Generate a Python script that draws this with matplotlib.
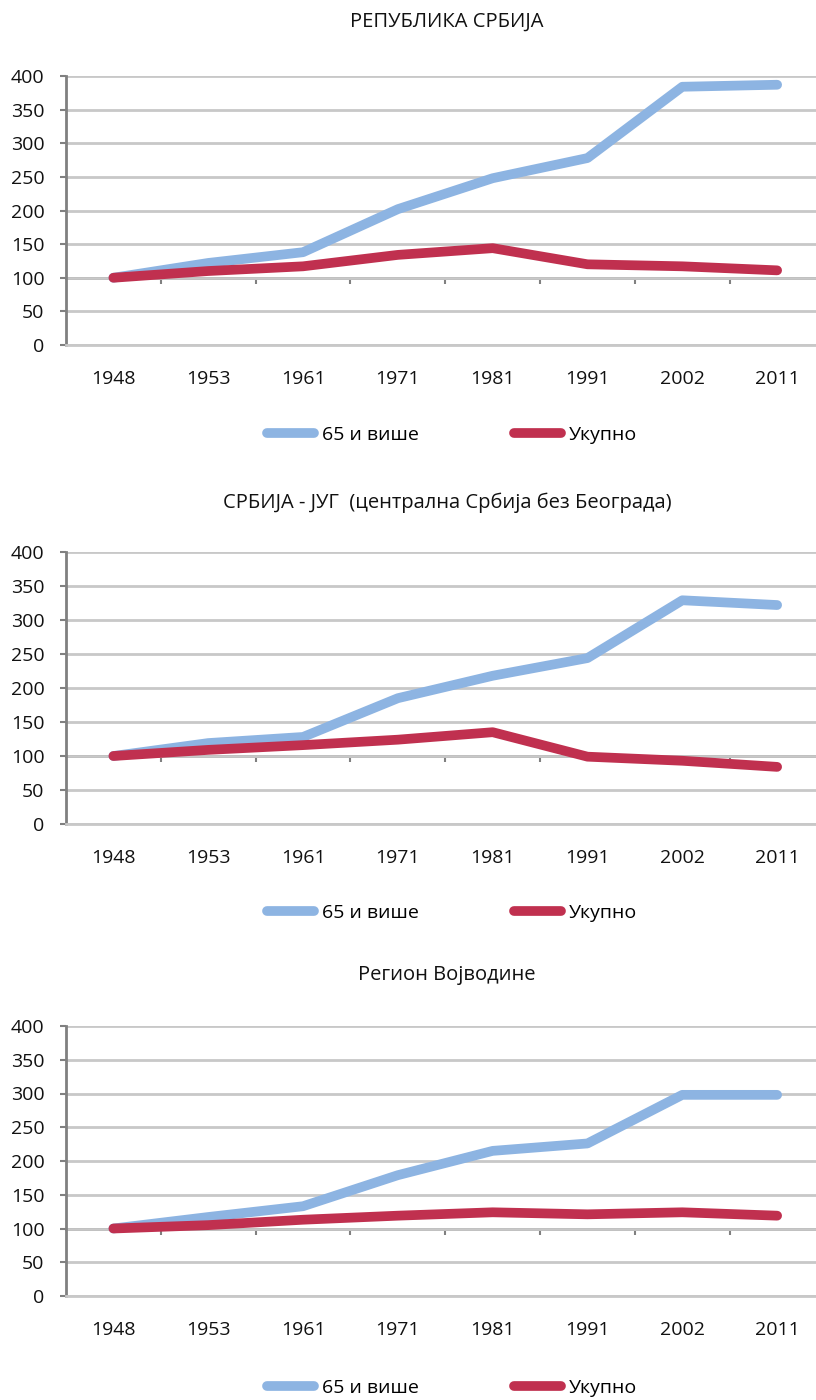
import numpy as np
import matplotlib
matplotlib.use('Agg')
import matplotlib.pyplot as plt

plt.rcParams['font.family'] = ['Open Sans', 'DejaVu Sans']

years = ['1948', '1953', '1961', '1971', '1981', '1991', '2002', '2011']
titles = ['РЕПУБЛИКА СРБИЈА',
          'СРБИЈА - ЈУГ  (централна Србија без Београда)',
          'Регион Војводине']
series_names = ['65 и више', 'Укупно']

# index, 1948 = 100
srbija_65 = [100, 122, 138, 202, 248, 278, 384, 387]
srbija_tot = [100, 110, 117, 134, 144, 120, 117, 111]
jug_65 = [100, 119, 128, 185, 218, 244, 329, 322]
jug_tot = [100, 109, 116, 124, 135, 99, 93, 84]
vojv_65 = [100, 117, 133, 179, 215, 226, 298, 298]
vojv_tot = [100, 105, 113, 119, 124, 121, 124, 119]

panels = [(srbija_65, srbija_tot), (jug_65, jug_tot), (vojv_65, vojv_tot)]

W, H = 816, 1400
fig = plt.figure(figsize=(W / 100, H / 100), dpi=100)

blue = '#8DB4E2'
red = '#C0304F'
grid_c = '#C8C8C8'
axis_c = '#808080'
txt_c = '#111111'
fs = 14

# pixel layout: (top, bottom) of each plot area, title y, legend y
tops = [76, 552, 1026]
bottoms = [345, 824, 1296]
title_y = [22, 503, 975]
legend_y = [435, 913, 1388]
left_px = 66

x = np.arange(len(years))
for k, (s65, stot) in enumerate(panels):
    ax = fig.add_axes([left_px / W, 1 - bottoms[k] / H,
                       (W - left_px) / W, (bottoms[k] - tops[k]) / H])
    ax.set_ylim(0, 400)
    ax.set_xlim(-0.5, 7.41)
    ax.set_yticks(np.arange(0, 401, 50))
    ax.yaxis.grid(True, color=grid_c, linewidth=2)
    ax.set_axisbelow(True)
    for s in ['top', 'right']:
        ax.spines[s].set_visible(False)
    ax.spines['bottom'].set_color(grid_c)
    ax.spines['bottom'].set_linewidth(2)
    ax.spines['left'].set_color(axis_c)
    ax.spines['left'].set_linewidth(2)
    ax.tick_params(axis='y', length=4.5, width=1.5, color=axis_c, pad=11,
                   labelsize=fs, labelcolor=txt_c)
    ax.set_xticks(x, years)
    ax.tick_params(axis='x', length=0, pad=18, labelsize=fs, labelcolor=txt_c)

    # category axis crosses at 100
    sec = ax.secondary_xaxis(0.25)
    sec.set_xticks(x[:-1] + 0.5, labels=[])
    sec.spines['bottom'].set_color(axis_c)
    sec.spines['bottom'].set_linewidth(2)
    sec.tick_params(axis='x', length=4.5, width=1.5, color=axis_c, direction='out')

    l1, = ax.plot(x, s65, color=blue, linewidth=7, solid_capstyle='round',
                  solid_joinstyle='round', label=series_names[0], clip_on=False)
    l2, = ax.plot(x, stot, color=red, linewidth=7, solid_capstyle='round',
                  solid_joinstyle='round', label=series_names[1], clip_on=False)

    fig.text(447 / W, 1 - title_y[k] / H, titles[k], ha='center', va='center',
             fontsize=14.5, color=txt_c)
    fig.legend(handles=[l1, l2], loc='center', ncol=2, frameon=False,
               bbox_to_anchor=(452 / W, 1 - legend_y[k] / H), fontsize=fs,
               handlelength=2.4, handletextpad=0.4, columnspacing=4.9)

fig.savefig('out.png', dpi=100)
